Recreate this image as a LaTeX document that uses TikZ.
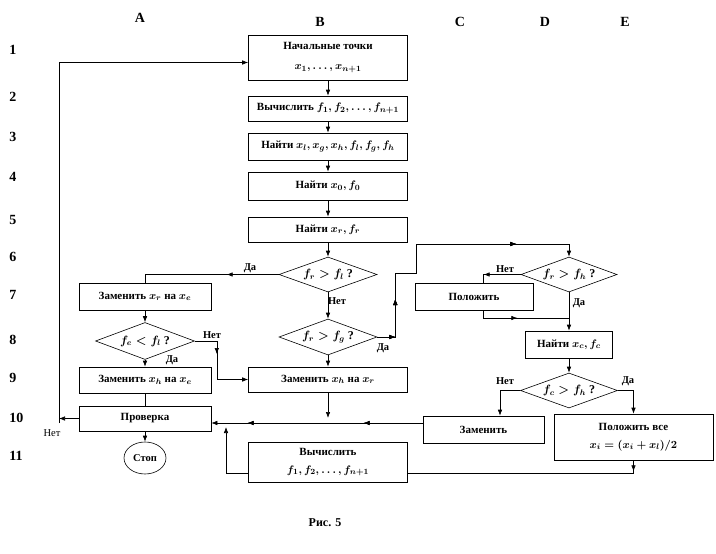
\documentclass[tikz,border=0pt]{standalone}
\usepackage{amssymb}
\usepackage{amsmath}
\usepackage{fontspec}
\setmainfont{Liberation Serif}
\usetikzlibrary{shapes.geometric,arrows.meta,decorations.markings}

\begin{document}
\begin{tikzpicture}[x=1pt,y=1pt,line width=0.6pt,>={Latex[length=6pt,width=4.5pt]},
  mid/.style={postaction={decorate},decoration={markings,mark=at position #1 with {\arrow{Latex[length=6pt,width=4.5pt]}}}}]
\tikzstyle{every node}+=[inner sep=0pt]
\tikzstyle{box}=[draw,minimum width=159pt,minimum height=25pt,align=center,font=\fontsize{11}{18}\selectfont\bfseries\boldmath]
\tikzstyle{cond}=[draw,diamond,aspect=2.8,minimum width=98pt,minimum height=35pt,font=\fontsize{12}{13}\selectfont\bfseries\boldmath]
\tikzstyle{lbl}=[font=\fontsize{10.5}{12}\selectfont\bfseries]
\tikzstyle{big}=[font=\fontsize{14}{16}\selectfont\bfseries]
\useasboundingbox (0,0) rectangle (716,-554);
\foreach \c/\x/\y in {A/140/-18,B/320/-22,C/460/-22,D/545/-22,E/625/-22}
  \draw (\x,\y) node[big] (col\c) {\c};
\foreach \r/\y in {1/-50,2/-97,3/-137,4/-177,5/-220,6/-257,7/-295,8/-340,9/-378,10/-418,11/-456}
  \draw (9,\y) node[big,anchor=west] (row\r) {\r};
\draw (328,-57.5) node[box,minimum height=45pt] (b1) {Начальные точки\\[2pt]$x_1,\ldots,x_{n+1}$};
\draw (328,-108.5) node[box] (b2) {Вычислить $f_1, f_2,\ldots, f_{n+1}$};
\draw (328,-146.5) node[box,minimum height=27pt] (b3) {Найти $x_l, x_g, x_h, f_l, f_g, f_h$};
\draw (328,-186) node[box,minimum height=28pt] (b4) {Найти $x_0, f_0$};
\draw (328,-229.5) node[box] (b5) {Найти $x_r, f_r$};
\draw (328,-274.5) node[cond] (b6) {$f_r > f_l$ ?};
\draw (328,-337) node[cond,minimum height=36pt] (b8) {$f_r > f_g$ ?};
\draw (328,-379.5) node[box] (b9) {Заменить $x_h$ на $x_r$};
\draw (328,-462) node[box,minimum height=40pt] (b11) {Вычислить\\$f_1, f_2,\ldots, f_{n+1}$};
\draw (145,-296.5) node[box,minimum width=132pt,minimum height=27pt] (a7) {Заменить $x_r$ на $x_e$};
\draw (145,-341) node[cond,minimum width=99pt,minimum height=37pt] (a8) {$f_e < f_l$ ?};
\draw (145,-380) node[box,minimum width=132pt,minimum height=26pt] (a9) {Заменить $x_h$ на $x_e$};
\draw (145,-418.5) node[box,minimum width=132pt] (a10) {Проверка};
\draw (145,-458) node[draw,ellipse,minimum width=42pt,minimum height=32pt,lbl] (stop) {Стоп};
\draw (474,-296.5) node[box,minimum width=118pt,minimum height=27pt] (c7) {Положить};
\draw (569,-274.5) node[cond,minimum width=96pt] (d6) {$f_r > f_h$ ?};
\draw (569,-344.5) node[box,minimum width=87pt,minimum height=27pt] (d8) {Найти $x_c, f_c$};
\draw (569,-390.5) node[cond,minimum width=97pt] (d9) {$f_c > f_h$ ?};
\draw (483.5,-429.5) node[box,minimum width=121pt,minimum height=27pt] (c10) {Заменить};
\draw (633.5,-437) node[box,minimum height=46pt] (e10) {Положить все\\$x_i = (x_i + x_l)/2$};
\draw (325,-523) node[font=\fontsize{12}{13}\selectfont\bfseries] (cap) {Рис. 5};
% yes / no
\draw (250,-268) node[lbl] (yes1) {Да};
\draw (337,-301) node[lbl] (no1) {Нет};
\draw (383,-348) node[lbl] (yes2) {Да};
\draw (212,-335) node[lbl] (no2) {Нет};
\draw (172,-360) node[lbl] (yes3) {Да};
\draw (505,-269) node[lbl] (no3) {Нет};
\draw (579,-303) node[lbl] (yes4) {Да};
\draw (505,-381) node[lbl] (no4) {Нет};
\draw (628,-381) node[lbl] (yes5) {Да};
\draw (52,-433) node[font=\fontsize{10.5}{12}\selectfont] (no5) {Нет};
% column B
\draw [->] (b1.south) -- (b2.north);
\draw [->] (b2.south) -- (b3.north);
\draw [->] (b3.south) -- (b4.north);
\draw [->] (b4.south) -- (b5.north);
\draw [->] (b5.south) -- (b6.north);
\draw [->] (b6.south) -- (b8.north);
\draw [->] (b8.south) -- (b9.north);
\draw [mid=52pt] (b6.west) -| (a7.north);
\draw [->,mid=18pt,mid=56pt,mid=232pt]
  (b8.east) -- ++(18,0) -- ++(0,64) -- ++(21,0) -- ++(0,29) -| (d6.north);
% column A
\draw [->] (a7.south) -- (a8.north);
\draw [->] (a8.south) -- (a9.north);
\draw [->,mid=35pt] (a8.east) -- ++(22,0) |- (b9.west);
\draw (a9.south) -- (a10.north);
\draw [->] (a10.south) -- (stop.north);
\coordinate (ret) at (59,-423);
\draw [->] (a10.west) -- (a10.west -| ret);
\draw [->] (ret) |- ([yshift=-5pt]b1.west);
% columns C, D, E
\draw [mid=37pt] (d6.west) -| ([xshift=9pt]c7.north);
\coordinate (dj) at (569,-318);
\draw [mid=42pt] ([xshift=9pt]c7.south) |- (dj);
\draw [->] (d6.south) -- (d8.north);
\draw [->] (d8.south) -- (d9.north);
\draw [->] (d9.west) -| ([xshift=16.5pt]c10.north);
\draw [->] (d9.east) -| (e10.north);
\draw [mid=11pt] (e10.south) |- ([yshift=-11pt]b11.east);
\coordinate (mrg) at ([yshift=6.5pt]c10.west);
\draw [->,mid=59pt,mid=175pt] (mrg) -- (mrg -| a10.east);
\coordinate (b9end) at (328,-418);
\draw [->] (b9.south) -- (b9end);
\coordinate (b11end) at (226,-427);
\draw [->] ([yshift=-11pt]b11.west) -| (b11end);
\end{tikzpicture}
\end{document}
